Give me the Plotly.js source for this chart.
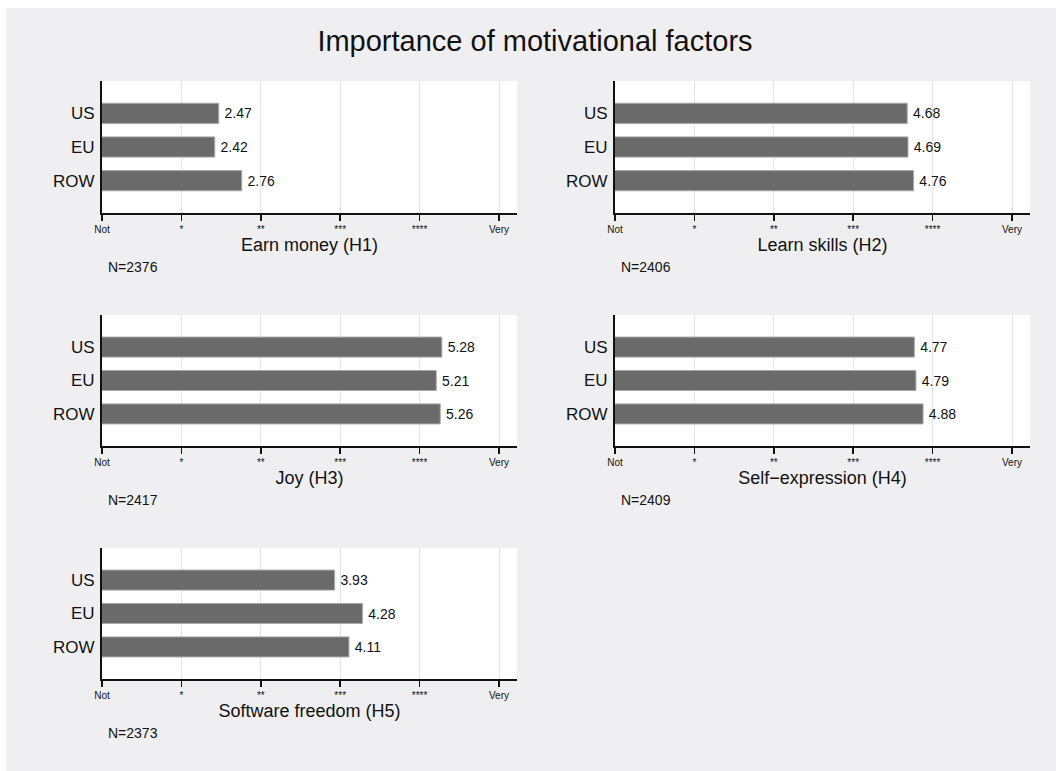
<!DOCTYPE html>
<html>
<head>
<meta charset="utf-8">
<script src="https://cdn.plot.ly/plotly-3.0.1.min.js"></script>
<style>
  html, body { margin: 0; padding: 0; background: #ffffff; }
  #chart { width: 1056px; height: 771px; }
</style>
</head>
<body>
<div id="chart"></div>
<script>
// Mean importance ratings by region, per motivational factor
const groups = ['US', 'EU', 'ROW'];
const earnMoney = [2.47, 2.42, 2.76];
const learnSkills = [4.68, 4.69, 4.76];
const joy = [5.28, 5.21, 5.26];
const selfExpression = [4.77, 4.79, 4.88];
const softwareFreedom = [3.93, 4.28, 4.11];

const factorNames = ['Earn money (H1)', 'Learn skills (H2)', 'Joy (H3)', 'Self\u2212expression (H4)', 'Software freedom (H5)'];
const sampleSizes = [2376, 2406, 2417, 2409, 2373];

const scaleValues = [1, 2, 3, 4, 5, 6];
const scaleLabels = ['Not', '*', '**', '***', '****', 'Very'];

const chartTitle = 'Importance of motivational factors';

const seriesList = [earnMoney, learnSkills, joy, selfExpression, softwareFreedom];

// Figure geometry (pixels) for each panel's plotting area
const W = 1056, H = 771;
const panels = [
  { x0: 102, x1: 517, y0: 81,  y1: 213 },
  { x0: 615, x1: 1030, y0: 81, y1: 213 },
  { x0: 102, x1: 517, y0: 315, y1: 446 },
  { x0: 615, x1: 1030, y0: 315, y1: 446 },
  { x0: 102, x1: 517, y0: 548, y1: 679 }
];

const FONT = '"Liberation Sans", Arial, Helvetica, sans-serif';

const traces = [];
const layout = {
  width: W,
  height: H,
  margin: { l: 0, r: 0, t: 0, b: 0, pad: 0 },
  paper_bgcolor: '#efeff2',
  plot_bgcolor: '#ffffff',
  showlegend: false,
  font: { family: FONT, color: '#111111' },
  title: {
    text: chartTitle,
    font: { family: FONT, size: 29, color: '#111111' },
    x: 535 / W, xanchor: 'center',
    y: 1 - 41 / H, yanchor: 'middle'
  },
  // thin white frame along the top and left edges of the figure
  shapes: [
    { type: 'rect', xref: 'paper', yref: 'paper', layer: 'above',
      x0: 0, x1: 6 / W, y0: 0, y1: 1, fillcolor: '#ffffff', line: { width: 0 } },
    { type: 'rect', xref: 'paper', yref: 'paper', layer: 'above',
      x0: 0, x1: 1, y0: 1 - 8 / H, y1: 1, fillcolor: '#ffffff', line: { width: 0 } }
  ],
  annotations: []
};

seriesList.forEach((vals, i) => {
  const p = panels[i];
  const n = i + 1;
  const xa = n === 1 ? 'xaxis' : 'xaxis' + n;
  const ya = n === 1 ? 'yaxis' : 'yaxis' + n;
  const xr = n === 1 ? 'x' : 'x' + n;
  const yr = n === 1 ? 'y' : 'y' + n;

  traces.push({
    type: 'bar',
    orientation: 'h',
    x: vals,
    y: groups,
    xaxis: xr,
    yaxis: yr,
    width: 0.6,
    marker: { color: '#6a6a6a', line: { color: '#a8a8a8', width: 1 } },
    text: vals.map(v => '\u2009' + v.toFixed(2)),
    textposition: 'outside',
    cliponaxis: false,
    textfont: { family: FONT, size: 14, color: '#111111' },
    hoverinfo: 'x+y'
  });

  layout[xa] = {
    domain: [p.x0 / W, p.x1 / W],
    anchor: yr,
    range: [1, 1 + (p.x1 - p.x0) / 79.4],
    tickvals: scaleValues,
    ticktext: scaleLabels,
    tickfont: { family: FONT, size: 10, color: '#111111' },
    ticks: 'outside',
    ticklen: 6,
    tickwidth: 1.5,
    tickcolor: '#111111',
    showline: true,
    linecolor: '#111111',
    linewidth: 2,
    showgrid: true,
    gridcolor: '#e4e4e8',
    gridwidth: 1,
    zeroline: false,
    fixedrange: true,
    title: {
      text: factorNames[i],
      font: { family: FONT, size: 18, color: '#111111' },
      standoff: 3
    }
  };

  layout[ya] = {
    domain: [1 - p.y1 / H, 1 - p.y0 / H],
    anchor: xr,
    type: 'category',
    categoryarray: groups,
    range: [2.96, -0.96],
    tickfont: { family: FONT, size: 17, color: '#111111' },
    ticks: '',
    ticklabelstandoff: 2,
    showline: true,
    linecolor: '#111111',
    linewidth: 2,
    showgrid: false,
    zeroline: false,
    fixedrange: true
  };

  layout.annotations.push({
    xref: 'paper', yref: 'paper',
    x: (p.x0 + 4) / W, y: 1 - (p.y1 + 54) / H,
    xanchor: 'left', yanchor: 'middle',
    text: 'N=' + sampleSizes[i],
    showarrow: false,
    font: { family: FONT, size: 14, color: '#111111' }
  });
});

Plotly.newPlot('chart', traces, layout, { displayModeBar: false, staticPlot: true });
</script>
</body>
</html>
